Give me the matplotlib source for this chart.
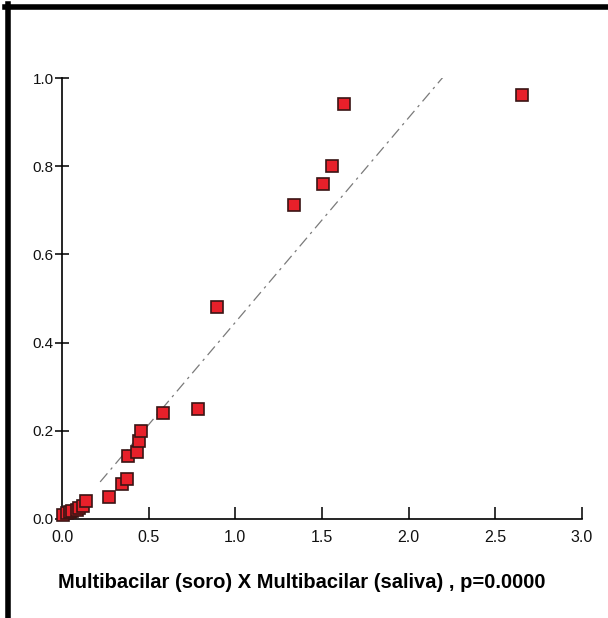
import matplotlib
matplotlib.use("Agg")
import matplotlib.pyplot as plt
from matplotlib.lines import Line2D

# values
soro = [0.008, 0.027, 0.045, 0.056, 0.085, 0.10, 0.123, 0.138,
        0.273, 0.346, 0.377, 0.381, 0.433, 0.443, 0.454, 0.583,
        0.785, 0.894, 1.339, 1.506, 1.558, 1.627, 2.654]
saliva = [0.010, 0.013, 0.016, 0.019, 0.020, 0.026, 0.029, 0.041,
          0.049, 0.079, 0.091, 0.143, 0.153, 0.178, 0.200, 0.241,
          0.250, 0.481, 0.712, 0.760, 0.800, 0.941, 0.961]

# fitted line (as drawn in the reference)
fit_slope = 0.464
fit_intercept = -0.018
fit_x = [0.22, 2.22]

x_ticks = [0.0, 0.5, 1.0, 1.5, 2.0, 2.5, 3.0]
y_ticks = [0.0, 0.2, 0.4, 0.6, 0.8, 1.0]

plt.rcParams['font.family'] = ['Liberation Sans', 'DejaVu Sans']

fig = plt.figure(figsize=(6.08, 6.18), dpi=100)
ax = fig.add_axes([62 / 608, 1 - 519 / 618, 520 / 608, 441 / 618])

fit_y = [fit_slope * v + fit_intercept for v in fit_x]
ax.plot(fit_x, fit_y, color='#7a7a7a', linewidth=0.9, dashes=(9, 4, 2, 4))

ax.plot(soro, saliva, linestyle='none', marker='s', markersize=8.5,
        markerfacecolor='#e8202a', markeredgecolor='#3a1414',
        markeredgewidth=1.2, clip_on=False, zorder=3)

ax.set_xlim(0, 3.0)
ax.set_ylim(0, 1.0)
ax.set_xticks(x_ticks)
ax.set_yticks(y_ticks)
ax.set_xticklabels([f"{t:.1f}" for t in x_ticks])
ax.set_yticklabels([f"{t:.1f}" for t in y_ticks])

for s in ['top', 'right']:
    ax.spines[s].set_visible(False)
for s in ['left', 'bottom']:
    ax.spines[s].set_linewidth(1.2)

ax.tick_params(axis='x', direction='in', length=9, width=1.2, pad=8,
               labelsize=11.5, colors='#111111')
ax.tick_params(axis='y', direction='inout', length=10, width=1.2, pad=1,
               labelsize=11, colors='#111111')

ax.set_xlabel("Multibacilar (soro) X Multibacilar (saliva) , p=0.0000",
              fontsize=14.5, fontweight='bold', labelpad=20)
ax.xaxis.label.set_x(0.4615)  # label sits a bit left of the axis centre

# black frame on top and left edges of the picture
fig.add_artist(Line2D([5 / 608, 1], [1 - 6.5 / 618, 1 - 6.5 / 618],
                      transform=fig.transFigure, color='black', linewidth=4))
fig.add_artist(Line2D([7.5 / 608, 7.5 / 608], [0, 1 - 4 / 618],
                      transform=fig.transFigure, color='black', linewidth=4))

fig.savefig("out.png", dpi=100)
